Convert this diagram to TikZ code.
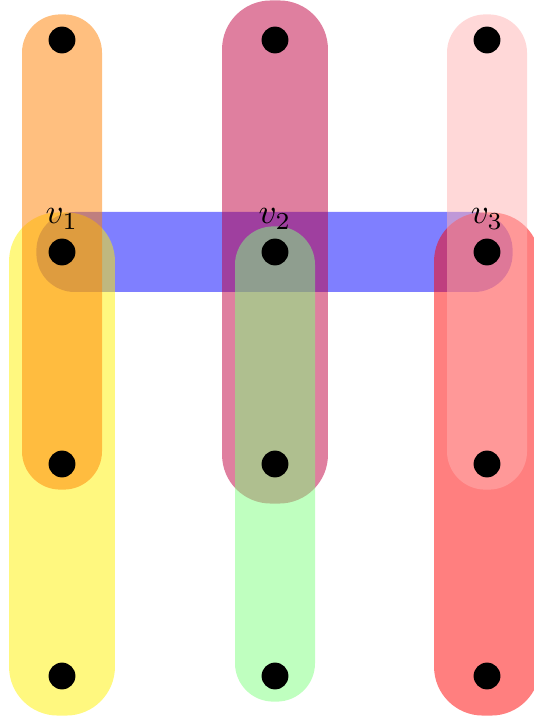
\documentclass[tikz,border=0pt]{standalone}
\usepackage{tikz}
\usetikzlibrary{fit, backgrounds}

\begin{document}
\begin{tikzpicture}[
  x=0.287pt, y=-0.287pt,
  dot/.style={circle, fill=black, inner sep=0pt, minimum size=7.7pt},
  inedge/.style={rectangle, draw=none, opacity=0.5, rounded corners=11pt, inner sep=3.3pt},
  outedge/.style={rectangle, draw=none, opacity=0.5, rounded corners=14pt, inner sep=7.3pt, minimum width=30.4pt},
  label distance=-1pt
]
  \useasboundingbox (0,0) rectangle (533,717);

  % vertices, column by column
  \node[dot] (a1) at (62, 40) {};
  \node[dot, label=above:$v_1$] (a2) at (62, 252) {};
  \node[dot] (a3) at (62, 464) {};
  \node[dot] (a4) at (62, 676) {};

  \node[dot] (b1) at (275, 40) {};
  \node[dot, label=above:$v_2$] (b2) at (275, 252) {};
  \node[dot] (b3) at (275, 464) {};
  \node[dot] (b4) at (275, 676) {};

  \node[dot] (c1) at (487, 40) {};
  \node[dot, label=above:$v_3$] (c2) at (487, 252) {};
  \node[dot] (c3) at (487, 464) {};
  \node[dot] (c4) at (487, 676) {};

  % hyperedges
  \begin{scope}[on background layer]
    \node[inedge, fit=(a2)(c2), minimum height=22.96pt, fill=blue] (eblue) {};
    \node[outedge, fit=(a2)(a4), fill=yellow] (eyellow) {};
    \node[inedge, fit=(a1)(a3), minimum width=22.96pt, fill=orange] (eorange) {};
    \node[outedge, fit=(b1)(b3), fill=purple] (epurple) {};
    \node[inedge, fit=(b2)(b4), minimum width=22.96pt, fill=green!50] (egreen) {};
    \node[outedge, fit=(c2)(c4), fill=red] (ered) {};
    \node[inedge, fit=(c1)(c3), minimum width=22.96pt, fill=red!30] (epink) {};
  \end{scope}
\end{tikzpicture}
\end{document}
